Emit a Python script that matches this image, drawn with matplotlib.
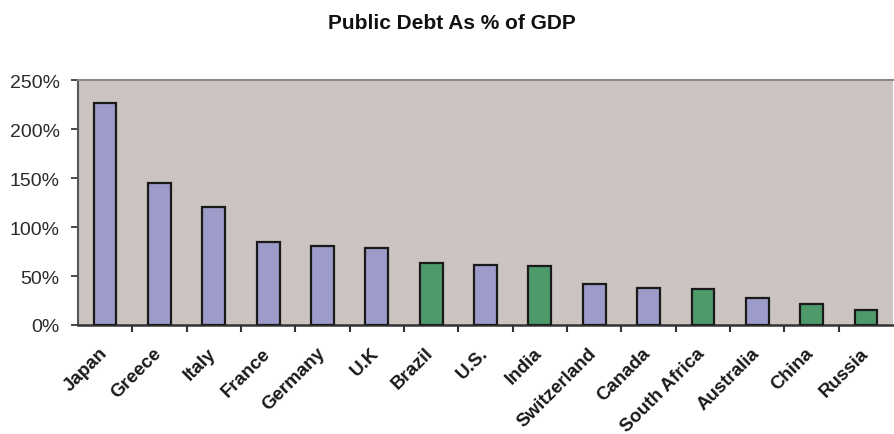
import matplotlib
matplotlib.use("Agg")
import matplotlib.pyplot as plt
from matplotlib.ticker import FuncFormatter

countries = ["Japan", "Greece", "Italy", "France", "Germany", "U.K", "Brazil", "U.S.",
             "India", "Switzerland", "Canada", "South Africa", "Australia", "China", "Russia"]
debt_pct = [227, 145, 120, 85, 81, 79, 63, 61.5, 60, 42, 37.5, 37, 28, 21.5, 15.5]
group = ["dev", "dev", "dev", "dev", "dev", "dev", "em", "dev",
         "em", "dev", "dev", "em", "dev", "em", "em"]
yticks = [0, 50, 100, 150, 200, 250]

colors = {"dev": "#9d9bc9", "em": "#4f9a6b"}

plt.rcParams["font.family"] = ["Liberation Sans", "DejaVu Sans"]
fig = plt.figure(figsize=(8.95, 4.35), dpi=100)
ax = fig.add_axes([0.087, 0.2506, 0.911, 0.563])
ax.set_facecolor("#cbc4c0")

x = list(range(len(countries)))
ax.bar(x, debt_pct, width=0.42, color=[colors[g] for g in group],
       edgecolor="#1a1a1a", linewidth=1.6, zorder=3)

ax.set_xlim(-0.5, len(countries) - 0.5)
ax.set_ylim(0, 250)
ax.set_yticks(yticks)
ax.yaxis.set_major_formatter(FuncFormatter(lambda v, p: f"{int(v)}%"))
ax.tick_params(axis="y", labelsize=14, colors="#2a2a2a", length=5, width=1.2, pad=8)
for lab in ax.get_yticklabels():
    lab.set_color("#2a2a2a")

ax.set_xticks([i + 0.5 for i in x[:-1]], minor=False)
ax.set_xticklabels([])
ax.tick_params(axis="x", length=5, width=1.5, colors="#333333", direction="out")
for i, name in enumerate(countries):
    ax.text(i - 0.12, -19.5, name, rotation=45, ha="right", va="top",
            rotation_mode="anchor", fontsize=13.5, fontweight="bold", color="#1a1a1a")

ax.spines["top"].set_color("#8c8884")
ax.spines["top"].set_linewidth(1.5)
ax.spines["right"].set_visible(False)
ax.spines["left"].set_color("#555555")
ax.spines["left"].set_linewidth(1.5)
ax.spines["bottom"].set_color("#333333")
ax.spines["bottom"].set_linewidth(1.8)

fig.text(0.505, 0.945, "Public Debt As % of GDP", ha="center", va="center",
         fontsize=15, fontweight="bold", color="#111111")

fig.savefig("out.png", dpi=100, facecolor="white")
